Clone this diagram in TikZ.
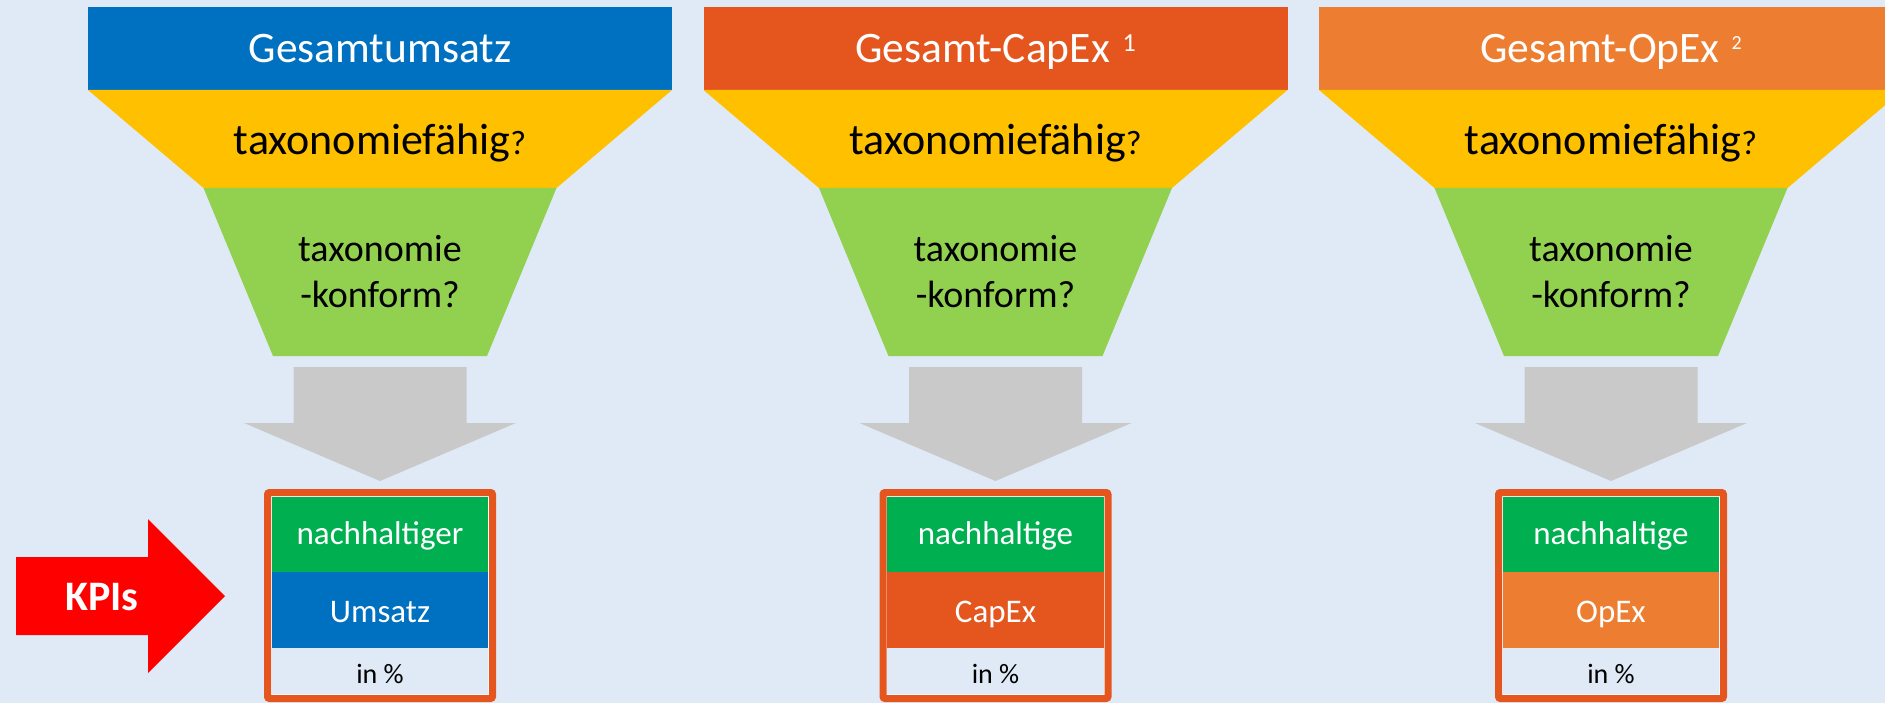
\documentclass[tikz,border=0pt]{standalone}
\usepackage{fontspec}
\setmainfont{Carlito}
\usetikzlibrary{calc}
\definecolor{bgblue}{HTML}{DFEAF6}
\definecolor{umsatzblue}{HTML}{0070C0}
\definecolor{capexred}{HTML}{E5561F}
\definecolor{opexorange}{HTML}{ED7D31}
\definecolor{fahigyellow}{HTML}{FFC000}
\definecolor{konformgreen}{HTML}{92D050}
\definecolor{kpigreen}{HTML}{00B050}
\definecolor{flowgray}{HTML}{C9C9C9}
\tikzset{every node/.style = {anchor = base, inner sep = 0pt}}
\tikzset{headtext/.style = {text = white, font = \fontsize{43.5}{52}\selectfont}}
\tikzset{asktext/.style = {font = \fontsize{44}{53}\selectfont}}
\tikzset{conftext/.style = {font = \fontsize{38}{46}\selectfont}}
\tikzset{kpitext/.style = {text = white, font = \fontsize{33}{40}\selectfont}}
\tikzset{pcttext/.style = {font = \fontsize{28}{34}\selectfont}}

\newcommand{\funnel}[7]{%
\fill[#3] ({#1-292},7) rectangle ({#1+292},90);
\fill[fahigyellow] ({#1-292},90) -- ({#1+292},90) -- ({#1+176.5},188) -- ({#1-176.5},188) -- cycle;
\fill[konformgreen] ({#1-176.5},188) -- ({#1+176.5},188) -- ({#1+107},356) -- ({#1-107},356) -- cycle;
\fill[flowgray] ({#1-86.5},367) -- ({#1+86.5},367) -- ({#1+86.5},423) -- ({#1+136},423) -- ({#1},481) -- ({#1-136},423) -- ({#1-86.5},423) -- cycle;
\fill[kpigreen] ({#1-109},496) rectangle ({#1+109},572);
\fill[#5] ({#1-109},572) rectangle ({#1+109},648);
\draw[white!70!bgblue, line width = 1.2pt] ({#1-109},496) rectangle ({#1+109},695);
\draw[capexred, line width = 7pt, rounded corners = 2pt] ({#1-112.5},492.5) rectangle ({#1+112.5},698.5);
\node[headtext] (#2-head) at (#1,63) {#4};
\node[asktext] (#2-able) at (#1,155) {taxonomiefähig{\fontsize{34}{40}\selectfont ?}};
\node[conftext] (#2-conf) at (#1,262) {taxonomie};
\node[conftext] (#2-form) at (#1,308) {-konform?};
\node[kpitext] (#2-top) at (#1,544) {#6};
\node[kpitext] (#2-base) at (#1,622) {#7};
\node[pcttext] (#2-pct) at (#1,683) {in \%};
}

\begin{document}
\begin{tikzpicture}[x = 1pt, y = -1pt]
\useasboundingbox (0,0) rectangle (1885,703);
\clip (0,0) rectangle (1885,703);
\fill[bgblue] (0,0) rectangle (1885,703);
\funnel{380}{ums}{umsatzblue}{Gesamtumsatz}{umsatzblue}{nachhaltiger}{Umsatz}
\funnel{995.5}{cap}{capexred}{Gesamt-CapEx \hspace{3pt}{\fontsize{26}{30}\selectfont\raisebox{11pt}{1}}}{capexred}{nachhaltige}{CapEx}
\funnel{1611}{opx}{opexorange}{Gesamt-OpEx \hspace{2pt}{\fontsize{20}{24}\selectfont\raisebox{13pt}{2}}}{opexorange}{nachhaltige}{OpEx}
\fill[red] (16,557) -- (148,557) -- (148,519) -- (225,596) -- (148,673) -- (148,635) -- (16,635) -- cycle;
\node[text = white, font = \fontsize{42}{50}\selectfont\bfseries] (kpis) at (102,610) {KPIs};
\end{tikzpicture}
\end{document}
